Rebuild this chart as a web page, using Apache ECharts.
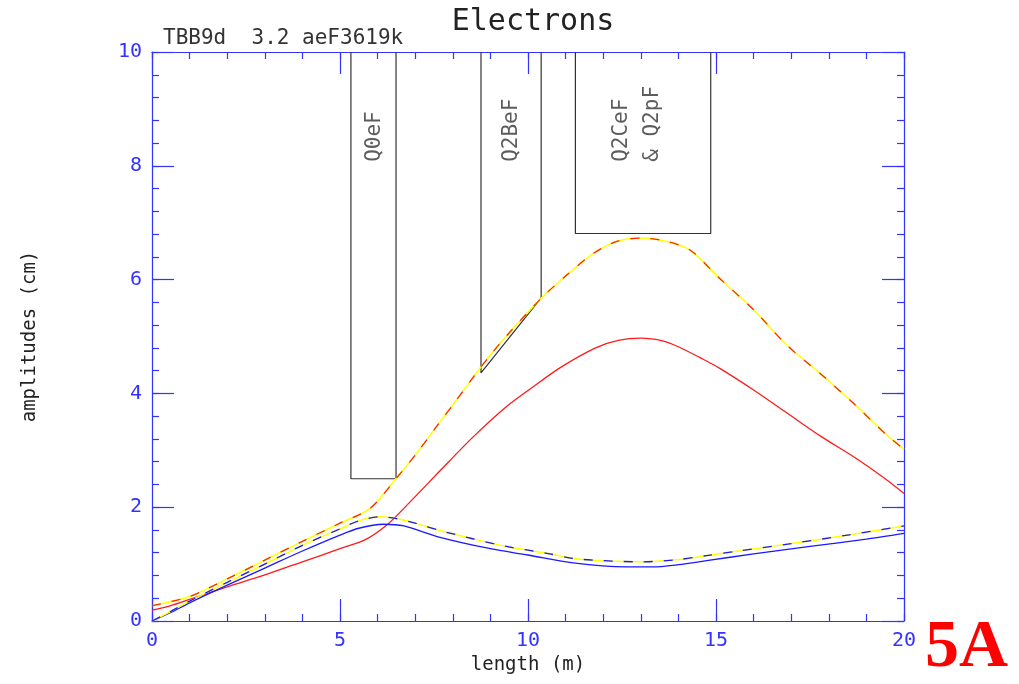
<!DOCTYPE html>
<html>
<head>
<meta charset="utf-8">
<title>Electrons</title>
<script src="https://cdn.jsdelivr.net/npm/echarts@6/dist/echarts.min.js"></script>
<style>
  html, body { margin: 0; padding: 0; background: #fff; }
  #chart { width: 1019px; height: 684px; }
</style>
</head>
<body>
<div id="chart"></div>
<script>
// envelope, dashed (red) and its yellow companion
var xDashed = [[0,0.27],[1,0.43],[2,0.74],[3,1.07],[4,1.40],[5,1.72],[5.8,1.98],[6.5,2.51],
  [7.04,2.95],[7.57,3.42],[8.06,3.85],[8.55,4.29],[9.03,4.70],[9.52,5.08],[10.35,5.67],
  [11.03,6.08],[11.74,6.46],[12.36,6.67],[13.02,6.73],[13.69,6.67],[14.31,6.52],[15.05,6.05],
  [16.0,5.47],[16.88,4.85],[17.77,4.35],[18.65,3.83],[19.54,3.27],[20,3.02]];
var xSolid = [[0,0.19],[0.5,0.27],[1,0.38],[2,0.60],[3,0.81],[4,1.04],[5,1.27],[5.7,1.44],
  [6.3,1.72],[6.8,2.05],[7.66,2.64],[8.55,3.24],[9.43,3.77],[10.1,4.10],[10.9,4.47],
  [11.8,4.80],[12.4,4.93],[13.0,4.97],[13.6,4.92],[14.0,4.82],[14.6,4.62],[15.1,4.44],
  [16,4.06],[16.9,3.65],[17.8,3.24],[18.7,2.87],[19.5,2.50],[20,2.24]];
var yDashed = [[0,0],[0.5,0.17],[1,0.35],[2,0.68],[3,1.00],[4,1.33],[5,1.62],[5.5,1.76],
  [6.06,1.83],[6.5,1.80],[7,1.72],[7.66,1.59],[8.5,1.45],[9.43,1.31],[10.5,1.19],[11.2,1.10],
  [12,1.06],[13,1.04],[14,1.08],[14.75,1.15],[15.5,1.22],[17,1.36],[18.5,1.51],[20,1.67]];
var ySolid = [[0,0],[0.5,0.15],[1,0.32],[2,0.63],[3,0.93],[4,1.23],[5,1.51],[5.5,1.63],
  [6.15,1.70],[6.7,1.67],[7.66,1.47],[9,1.27],[10,1.16],[11.2,1.02],[12.6,0.95],[13.3,0.95],
  [14,0.99],[14.75,1.06],[16,1.18],[17.5,1.31],[19,1.44],[20,1.54]];

// magnet outlines (open at the top, which is the frame)
var magQ0eF = [[5.29,10],[5.29,2.5],[6.49,2.5],[6.49,10]];
var magQ2BeF = [[8.75,10],[8.75,4.36],[10.35,5.68],[10.35,10]];
var magQ2CeF = [[11.26,10],[11.26,6.81],[14.86,6.81],[14.86,10]];
var magLabels = [[5.93,8.07,'Q0eF'],[9.55,8.07,'Q2BeF'],[12.49,8.07,'Q2CeF'],[13.32,8.07,'& Q2pF']];

var xTicks = [0, 5, 10, 15, 20];
var yTicks = [0, 2, 4, 6, 8, 10];

var mono = '"DejaVu Sans Mono", monospace';
var blue = '#3333ff';

var chart = echarts.init(document.getElementById('chart'));

// major ticks + axis line
function frameAxis(extra) {
  var a = {
    type: 'value',
    axisLine: { show: true, onZero: false, lineStyle: { color: blue, width: 1.2 } },
    axisTick: { show: true, inside: true, length: 22, lineStyle: { color: blue, width: 1.2 } },
    splitLine: { show: false },
    axisLabel: { show: false }
  };
  for (var k in extra) a[k] = extra[k];
  return a;
}
// minor ticks only, drawn as a bare axis on the same side
function minorAxis(extra) {
  var a = {
    type: 'value',
    axisLine: { show: false, onZero: false },
    axisTick: { show: true, inside: true, length: 7, lineStyle: { color: blue, width: 1.2 } },
    splitLine: { show: false },
    axisLabel: { show: false }
  };
  for (var k in extra) a[k] = extra[k];
  return a;
}

function curve(data, color, dashed, w) {
  return {
    type: 'line', data: data, showSymbol: false, smooth: 0.3,
    silent: true, animation: false,
    lineStyle: { color: color, width: w || 1.3, type: dashed ? [9, 11] : 'solid' },
    xAxisIndex: 0, yAxisIndex: 0
  };
}

function magnet(data) {
  return {
    type: 'line', data: data, showSymbol: false, silent: true, animation: false,
    lineStyle: { color: '#333', width: 1.2 }, xAxisIndex: 0, yAxisIndex: 0
  };
}

chart.setOption({
  backgroundColor: '#fff',
  animation: false,
  title: {
    text: 'Electrons', left: 528, top: 2, textAlign: 'center',
    textStyle: { fontFamily: mono, fontSize: 30, fontWeight: 'normal', color: '#222' }
  },
  grid: { left: 152, right: 115, top: 52, bottom: 63 },
  xAxis: [
    frameAxis({
      min: 0, max: 20, interval: 5, position: 'bottom',
      name: 'length (m)', nameLocation: 'middle', nameGap: 34,
      nameTextStyle: { fontFamily: mono, fontSize: 19, color: '#222' },
      axisLabel: { show: true, color: blue, fontFamily: mono, fontSize: 20, margin: 10,
        formatter: function (v) { return xTicks.indexOf(v) >= 0 ? String(v) : ''; } }
    }),
    frameAxis({ min: 0, max: 20, interval: 5, position: 'top' }),
    minorAxis({ min: 0, max: 20, interval: 1, position: 'bottom' }),
    minorAxis({ min: 0, max: 20, interval: 1, position: 'top' })
  ],
  yAxis: [
    frameAxis({
      min: 0, max: 10, interval: 2, position: 'left',
      name: 'amplitudes (cm)', nameLocation: 'middle', nameGap: 112,
      nameTextStyle: { fontFamily: mono, fontSize: 19, color: '#222' },
      axisLabel: { show: true, color: blue, fontFamily: mono, fontSize: 20, margin: 10,
        formatter: function (v) { return yTicks.indexOf(v) >= 0 ? String(v) : ''; } }
    }),
    frameAxis({ min: 0, max: 10, interval: 2, position: 'right' }),
    minorAxis({ min: 0, max: 10, interval: 0.4, position: 'left' }),
    minorAxis({ min: 0, max: 10, interval: 0.4, position: 'right' })
  ],
  graphic: [
    { type: 'text', left: 163, top: 28,
      style: { text: 'TBB9d  3.2 aeF3619k', font: '21px ' + mono, fill: '#333' } },
    { type: 'text', right: 11, bottom: 2,
      style: { text: '5A', font: 'bold 68px "Liberation Serif", serif', fill: '#ff0000' } }
  ],
  series: [
    magnet(magQ0eF),
    magnet(magQ2BeF),
    magnet(magQ2CeF),
    {
      type: 'scatter', data: magLabels, symbolSize: 0, silent: true, animation: false,
      label: {
        show: true, position: 'inside', rotate: 90, align: 'left', verticalAlign: 'middle',
        formatter: function (p) { return p.data[2]; },
        fontFamily: mono, fontSize: 21, color: '#333'
      }
    },
    curve(xSolid, '#ff1a1a', false),
    curve(ySolid, '#1a1aff', false),
    curve(xDashed, '#ffff00', false, 1.5),
    curve(xDashed, '#ff2a00', true),
    curve(yDashed, '#ffff00', false, 1.5),
    curve(yDashed, '#1a1aff', true)
  ]
});
</script>
</body>
</html>
